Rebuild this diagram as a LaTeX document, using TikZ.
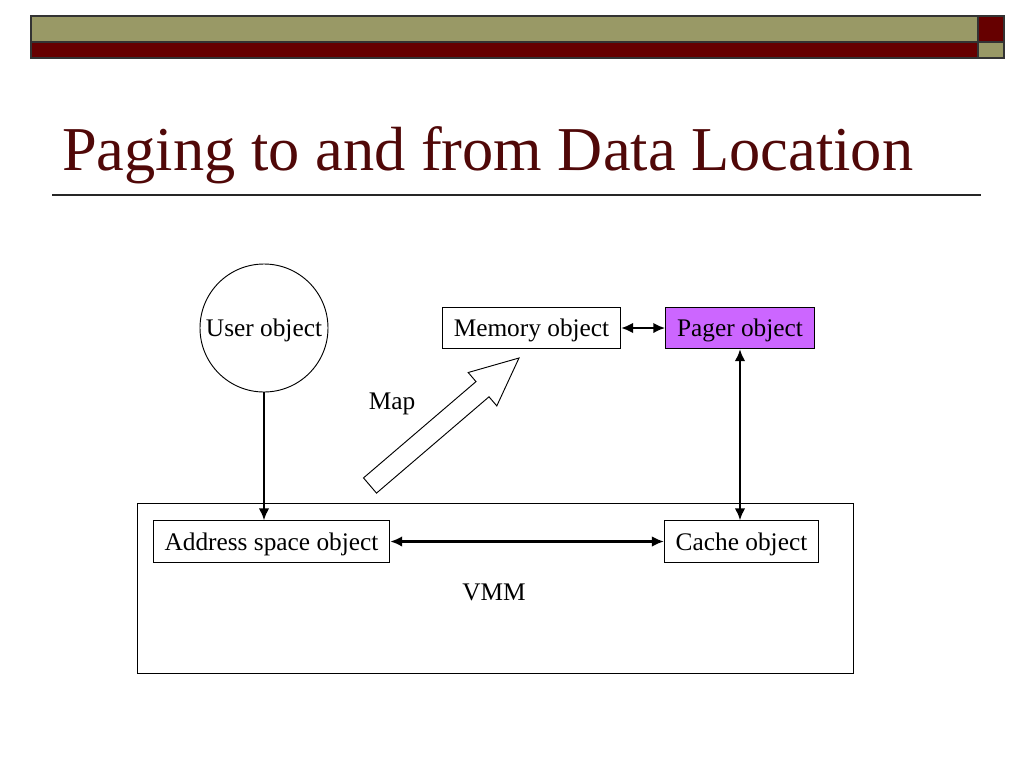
\documentclass[tikz,border=0pt]{standalone}
\usepackage{fontspec}
\setmainfont{Liberation Serif}
\usepackage{xcolor}
\usetikzlibrary{arrows.meta,positioning,calc}

\definecolor{olivebar}{RGB}{153,153,102}
\definecolor{maroonbar}{RGB}{102,0,0}
\definecolor{titlered}{RGB}{80,8,8}
\definecolor{pagerviolet}{RGB}{204,102,255}

\tikzset{
  objbox/.style={draw, line width=0.7pt, inner xsep=8.5pt, inner ysep=0pt, minimum height=31pt, text height=16pt, text depth=3pt, font=\fontsize{19}{22}\selectfont},
  objcircle/.style={circle, draw, line width=0.7pt, minimum size=96pt, inner sep=0pt, text height=16pt, text depth=3pt, font=\fontsize{19}{22}\selectfont},
  link/.style={line width=2pt, -{Latex[length=9pt,width=8pt]}},
  dlink/.style={line width=2pt, {Latex[length=9pt,width=8pt]}-{Latex[length=9pt,width=8pt]}},
  plainlabel/.style={font=\fontsize{19}{22}\selectfont}
}

\begin{document}
\begin{tikzpicture}[x=0.75pt,y=-0.75pt]
\useasboundingbox (0,0) rectangle (1024,768);

% Top bar
\fill[olivebar] (31,16) rectangle (978,42);
\fill[maroonbar] (31,42) rectangle (978,58);
\fill[maroonbar] (978,16) rectangle (1004,42);
\fill[olivebar] (978,42) rectangle (1004,58);
\draw[line width=0.8pt, black!80] (31,16) rectangle (1004,58);
\draw[line width=0.8pt, black!80] (31,42) -- (1004,42);
\draw[line width=0.8pt, black!80] (978,16) -- (978,58);

% Title and rule
\node[anchor=base west, inner sep=0pt, text=titlered, font=\fontsize{46.8}{56}\selectfont] (title) at (62,170) {Paging to and from Data Location};
\draw[line width=0.9pt, black!85] (52,195) -- (981,195);

% VMM frame
\draw[line width=0.7pt] (137,503) rectangle (853,673);
\node[plainlabel] (vmm) at (494,592) {VMM};

% Objects
\node[objcircle] (user) at (264,328) {User object};
\node[objbox] (memory) at (531.5,328) {Memory object};
\node[objbox, fill=pagerviolet] (pager) at (740,328) {Pager object};
\node[objbox] (aspace) at (271.5,541.5) {Address space object};
\node[objbox] (cache) at (741.5,541.5) {Cache object};

% Connectors
\draw[link] (user.south) -- (user.south |- aspace.north);
\draw[dlink] (memory.east) -- (pager.west);
\draw[dlink] (pager.south) -- (pager.south |- cache.north);
\draw[dlink] (aspace.east) -- (cache.west);

% Map arrow
\node[plainlabel] (map) at (392,404) {Map};
\draw[line width=0.7pt, fill=white] (363.5,477.9) -- (476,381.6) -- (468.2,372.5) -- (519,358)
  -- (496.8,405.9) -- (489,396.8) -- (376.5,493.1) -- cycle;

\end{tikzpicture}
\end{document}
